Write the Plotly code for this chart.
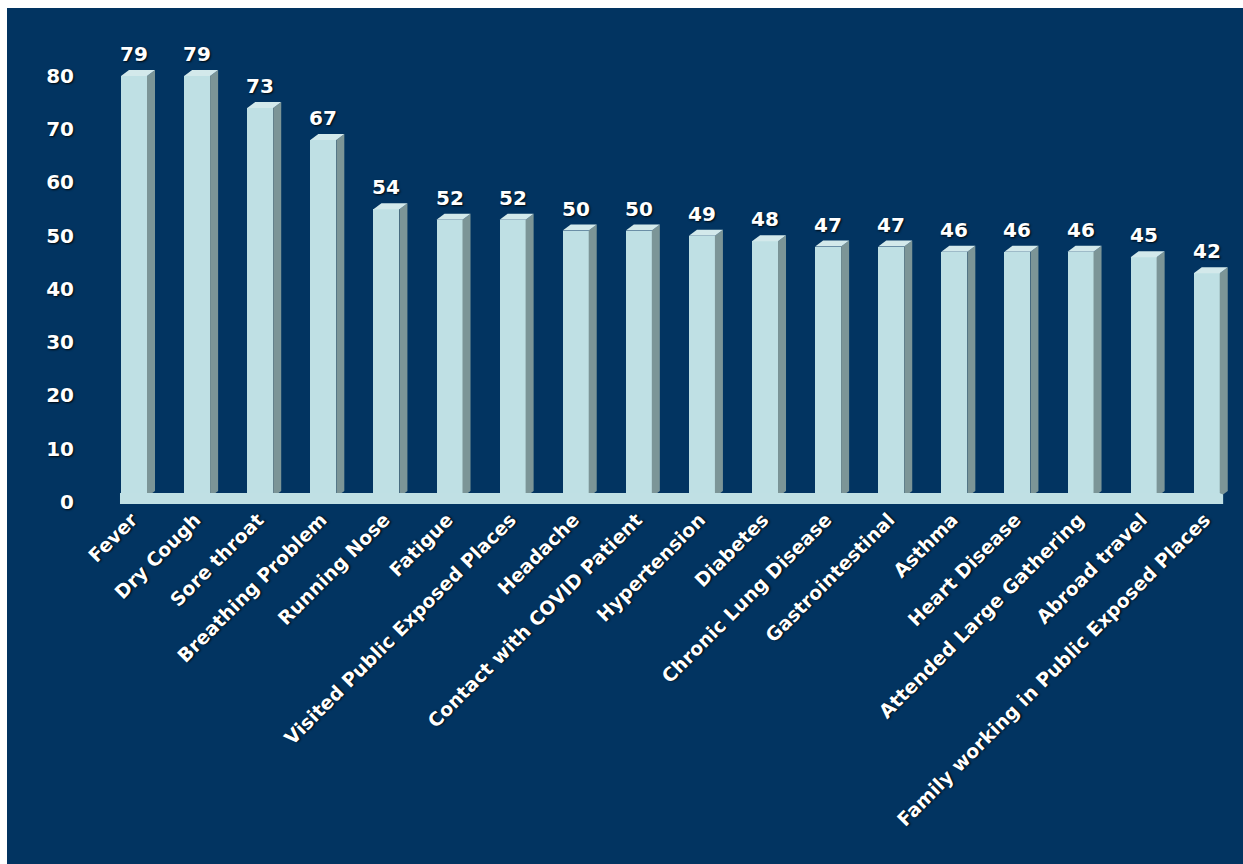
import plotly.graph_objects as go

categories = ["Fever", "Dry Cough", "Sore throat", "Breathing Problem", "Running Nose",
              "Fatigue", "Visited Public Exposed Places", "Headache", "Contact with COVID Patient",
              "Hypertension", "Diabetes", "Chronic Lung Disease", "Gastrointestinal", "Asthma",
              "Heart Disease", "Attended Large Gathering", "Abroad travel",
              "Family working in Public Exposed Places"]
values = [79, 79, 73, 67, 54, 52, 52, 50, 50, 49, 48, 47, 47, 46, 46, 46, 45, 42]
y_ticks = [0, 10, 20, 30, 40, 50, 60, 70, 80]

BG = "#023461"
FRONT = "#bfe0e4"
SIDE = "#7c9597"
TOP = "#d3e9eb"
SLAB = "#c0e0e4"
FONT = "DejaVu Sans"
SHADOW = "1px 1px 2px rgba(0,0,0,0.9)"

xs = list(range(len(categories)))
half = 0.206      # half width of the front face (x units)
dx = 0.127        # 3D depth along x
dy = 1.13         # 3D depth along y

fig = go.Figure()
fig.add_trace(go.Bar(x=xs, y=values, width=2 * half, marker=dict(color=FRONT, line=dict(width=0)),
                     hoverinfo="skip", showlegend=False))

shapes = []
for x, v in zip(xs, values):
    r = x + half
    l = x - half
    shapes.append(dict(type="path", xref="x", yref="y", layer="above",
                       path=f"M{r},0 L{r},{v} L{r+dx},{v+dy} L{r+dx},{dy} Z",
                       fillcolor=SIDE, line=dict(width=0)))
    shapes.append(dict(type="path", xref="x", yref="y", layer="above",
                       path=f"M{l},{v} L{r},{v} L{r+dx},{v+dy} L{l+dx},{v+dy} Z",
                       fillcolor=TOP, line=dict(width=0)))

x_first = xs[0] - 0.222
x_last = xs[-1] + 0.26
shapes.append(dict(type="path", xref="x", yref="y", layer="above",
                   path=f"M{x_first},-1.31 L{x_last},-1.31 L{x_last},0.45 L{x_last-0.06},0.75 L{x_first},0.75 Z",
                   fillcolor=SLAB, line=dict(width=0)))

L, W, T, H = 84, 1157, 28, 485
shapes.append(dict(type="rect", xref="paper", yref="paper", layer="above",
                   x0=-L / W, x1=(1243 - L) / W, y0=1 + (T - 8) / H, y1=1 + T / H,
                   fillcolor="white", line=dict(width=0)))
shapes.append(dict(type="rect", xref="paper", yref="paper", layer="above",
                   x0=-L / W, x1=-(L - 7) / W, y0=-(864 - T - H) / H, y1=1 + T / H,
                   fillcolor="white", line=dict(width=0)))

annotations = []
for x, v in zip(xs, values):
    annotations.append(dict(x=x, y=v, xref="x", yref="y", text=str(v), showarrow=False,
                            yanchor="bottom", yshift=8,
                            font=dict(family=FONT, size=20, color="white", weight="bold",
                                      shadow=SHADOW)))

fig.update_layout(
    width=1243, height=864,
    margin=dict(l=L, r=1243 - L - W, t=T, b=864 - T - H),
    paper_bgcolor=BG, plot_bgcolor=BG,
    shapes=shapes, annotations=annotations,
    xaxis=dict(range=[-0.7924, 17.543], tickmode="array", tickvals=xs, ticktext=categories,
               tickangle=-45, showgrid=False, zeroline=False, showline=False, ticks="",
               ticklabelshift=-2, ticklabelstandoff=-9,
               tickfont=dict(family=FONT, size=19, color="white", weight="bold", shadow=SHADOW)),
    yaxis=dict(range=[-3, 88], tickmode="array", tickvals=y_ticks, showgrid=False,
               zeroline=False, showline=False, ticks="", ticklabelstandoff=9, ticklabelshift=5,
               tickfont=dict(family=FONT, size=20, color="white", weight="bold", shadow=SHADOW)),
    bargap=0,
)

fig.write_html("out.html")
